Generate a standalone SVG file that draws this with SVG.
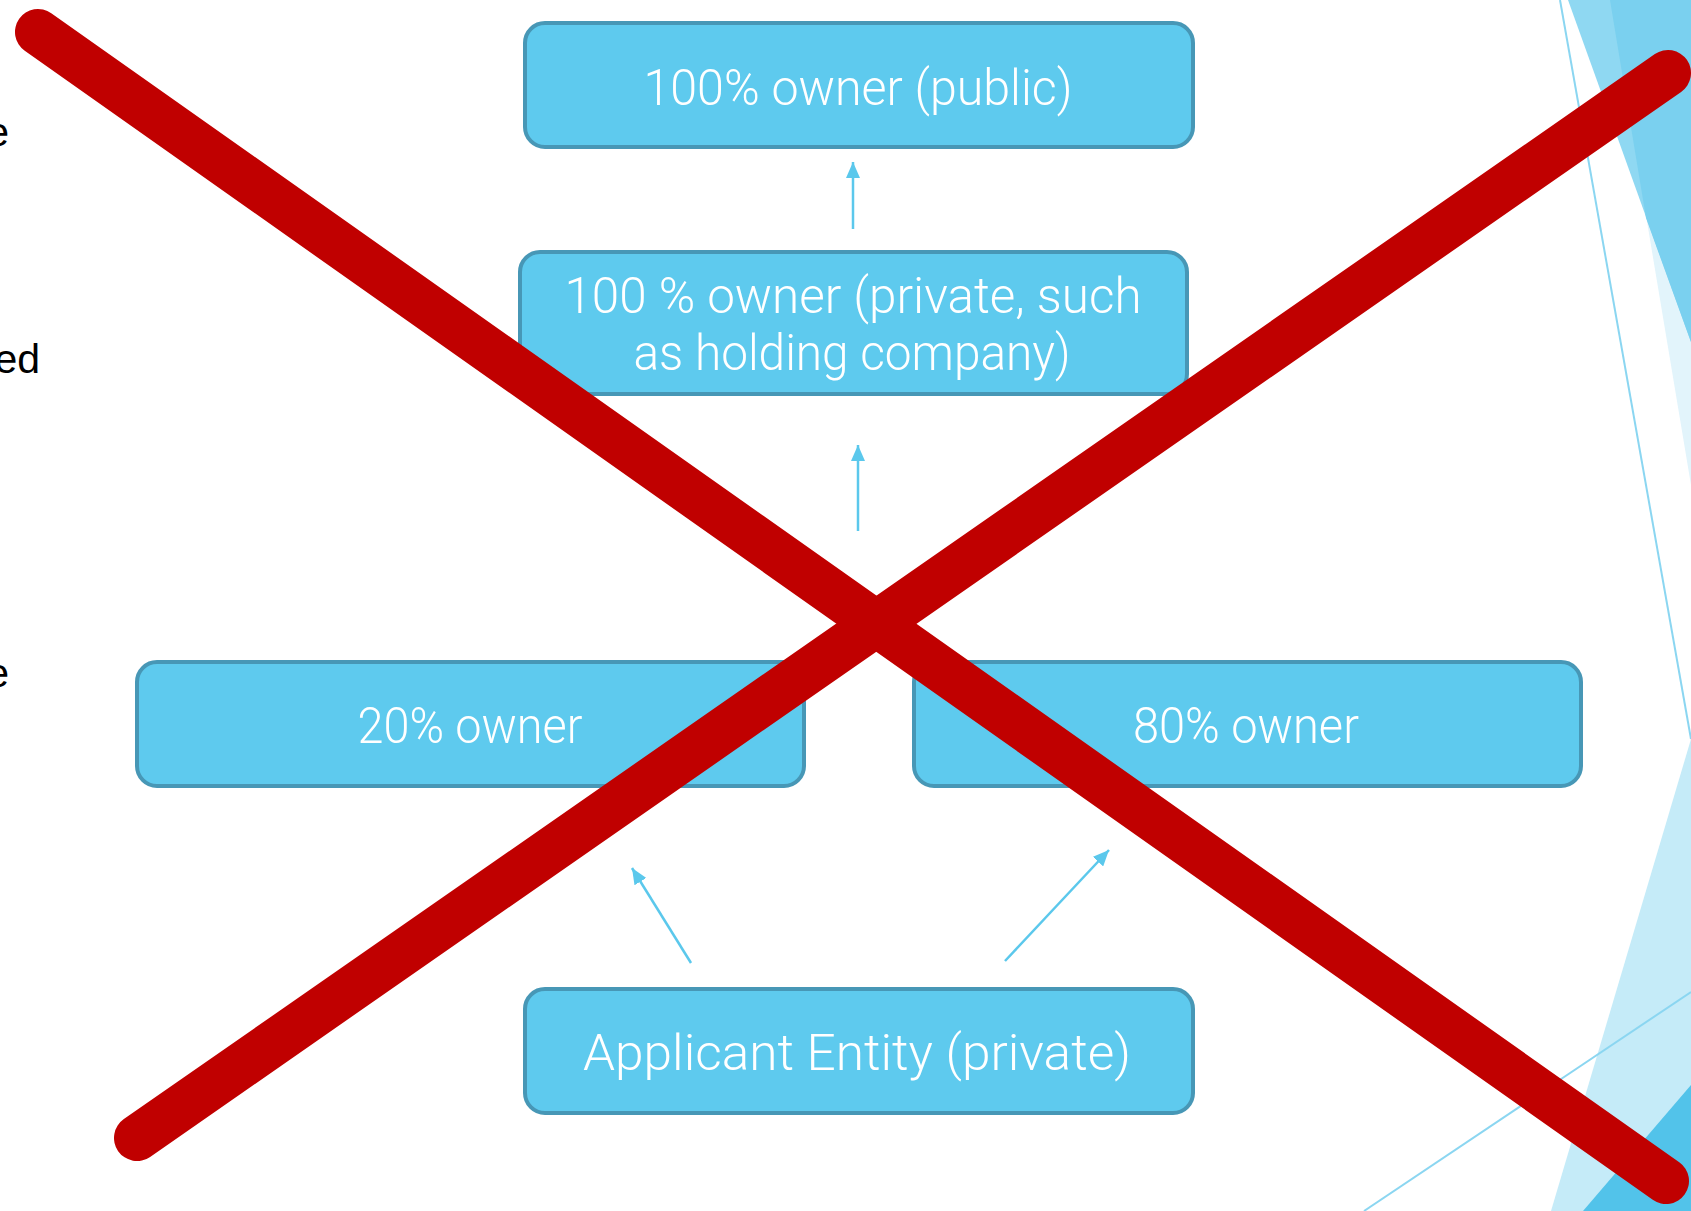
<svg xmlns="http://www.w3.org/2000/svg" width="1691" height="1211" viewBox="0 0 1691 1211">
<defs>
<style>
.box{fill:#5ECAEE;stroke:#4797B6;stroke-width:4}
.lbl{font-family:Roboto,"Liberation Sans",sans-serif;font-weight:300;font-size:50px;fill:#FFFFFF;text-anchor:middle}
.conn{stroke:#5BC8EC;stroke-width:2.5;fill:none}
.bg{font-family:"Liberation Sans",Arial,sans-serif;font-size:41px;fill:#000000;text-anchor:end}
.deco{stroke:#8BD6F1;stroke-width:2;fill:none}
.xline{stroke:#C00000;stroke-width:46;stroke-linecap:round;fill:none}
</style>
<marker id="ah" markerUnits="userSpaceOnUse" markerWidth="18" markerHeight="14" refX="16" refY="7" orient="auto">
<path d="M0,0 L16,7 L0,14 Z" fill="#5BC8EC"/>
</marker>
</defs>
<rect width="1691" height="1211" fill="#FFFFFF"/>
<g id="background">
<text class="bg" x="9" y="146">e</text>
<text class="bg" x="40" y="373">ed</text>
<text class="bg" x="9" y="687">e</text>
<polygon points="1610,0 1691,0 1691,485" fill="#E2F4FB"/>
<polygon points="1568,0 1691,0 1691,342" fill="#8FD8F2"/>
<polygon points="1610,0 1691,0 1691,342 1646,218" fill="#7AD0EF"/>
<line class="deco" x1="1560" y1="0" x2="1691" y2="739"/>
<polygon points="1691,739 1691,1211 1551,1211" fill="#C5EBF8"/>
<polygon points="1583,1211 1691,1085 1691,1211" fill="#52C3EA"/>
<line class="deco" x1="1364" y1="1211" x2="1691" y2="992"/>
</g>
<g id="connectors">
<line class="conn" x1="853" y1="229" x2="853" y2="162" marker-end="url(#ah)"/>
<line class="conn" x1="858" y1="531" x2="858" y2="445" marker-end="url(#ah)"/>
<line class="conn" x1="691" y1="963" x2="632" y2="868" marker-end="url(#ah)"/>
<line class="conn" x1="1005" y1="961" x2="1109" y2="850" marker-end="url(#ah)"/>
</g>
<g id="node-public">
<rect class="box" x="525" y="23" width="668" height="124" rx="20"/>
<text class="lbl" x="858" y="105" textLength="429" lengthAdjust="spacingAndGlyphs">100% owner (public)</text>
</g>
<g id="node-private">
<rect class="box" x="520" y="252" width="667" height="142" rx="20"/>
<text class="lbl" x="853" y="313" textLength="577" lengthAdjust="spacingAndGlyphs">100 % owner (private, such</text>
<text class="lbl" x="852" y="370" textLength="437" lengthAdjust="spacingAndGlyphs">as holding company)</text>
</g>
<g id="node-20">
<rect class="box" x="137" y="662" width="667" height="124" rx="20"/>
<text class="lbl" x="470" y="743" textLength="225" lengthAdjust="spacingAndGlyphs">20% owner</text>
</g>
<g id="node-80">
<rect class="box" x="914" y="662" width="667" height="124" rx="20"/>
<text class="lbl" x="1246" y="743" textLength="226" lengthAdjust="spacingAndGlyphs">80% owner</text>
</g>
<g id="node-applicant">
<rect class="box" x="525" y="989" width="668" height="124" rx="20"/>
<text class="lbl" x="857" y="1070" textLength="548" lengthAdjust="spacingAndGlyphs">Applicant Entity (private)</text>
</g>
<g id="cross">
<line class="xline" x1="38" y1="32" x2="1666" y2="1181"/>
<line class="xline" x1="137" y1="1138" x2="1668" y2="73"/>
</g>
</svg>
